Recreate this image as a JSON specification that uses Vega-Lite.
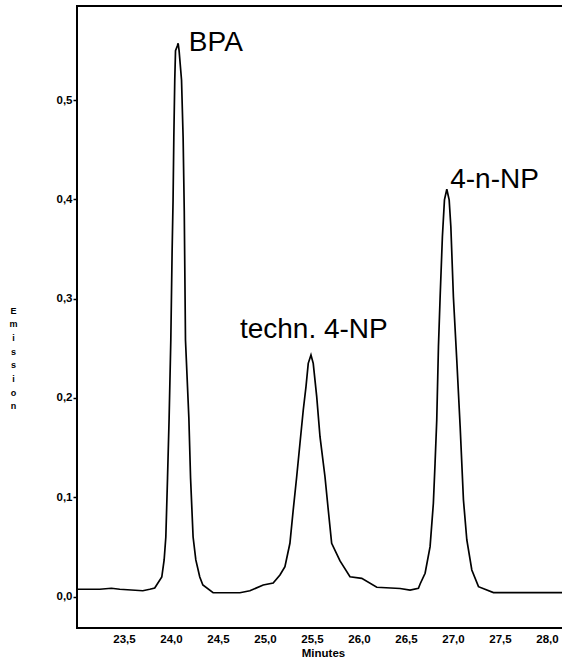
{
  "$schema": "https://vega.github.io/schema/vega-lite/v6.json",
  "autosize": {"type": "none"},
  "padding": {"left": 77, "top": 6, "right": 0, "bottom": 31},
  "width": 486,
  "height": 622,
  "background": "white",
  "config": {
    "view": {"stroke": "black", "strokeWidth": 2},
    "axis": {"grid": false, "domain": false, "labelFont": "Liberation Sans", "labelFontWeight": "bold", "labelFontSize": 11.5, "labelColor": "black", "titleColor": "black", "tickColor": "black"}
  },
  "datasets": {
    "trace": [
      {"t": 23.000, "v": 0.0074}, {"t": 23.242, "v": 0.0074}, {"t": 23.366, "v": 0.0084}, {"t": 23.455, "v": 0.0074},
      {"t": 23.700, "v": 0.0059}, {"t": 23.774, "v": 0.0074}, {"t": 23.827, "v": 0.0087}, {"t": 23.902, "v": 0.0197},
      {"t": 23.927, "v": 0.0369}, {"t": 23.945, "v": 0.0600}, {"t": 23.963, "v": 0.1194}, {"t": 23.980, "v": 0.1799},
      {"t": 23.998, "v": 0.2584}, {"t": 24.012, "v": 0.3490}, {"t": 24.022, "v": 0.3994}, {"t": 24.030, "v": 0.4618},
      {"t": 24.040, "v": 0.5202}, {"t": 24.048, "v": 0.5497}, {"t": 24.067, "v": 0.5545}, {"t": 24.076, "v": 0.5572},
      {"t": 24.086, "v": 0.5497}, {"t": 24.112, "v": 0.5202}, {"t": 24.129, "v": 0.4618}, {"t": 24.141, "v": 0.3883},
      {"t": 24.154, "v": 0.2584}, {"t": 24.190, "v": 0.1799}, {"t": 24.208, "v": 0.1194}, {"t": 24.235, "v": 0.0600},
      {"t": 24.264, "v": 0.0369}, {"t": 24.306, "v": 0.0197}, {"t": 24.339, "v": 0.0117}, {"t": 24.448, "v": 0.0039},
      {"t": 24.733, "v": 0.0039}, {"t": 24.839, "v": 0.0059}, {"t": 24.981, "v": 0.0117}, {"t": 25.087, "v": 0.0137},
      {"t": 25.159, "v": 0.0218}, {"t": 25.212, "v": 0.0301}, {"t": 25.265, "v": 0.0537}, {"t": 25.300, "v": 0.0872},
      {"t": 25.337, "v": 0.1207}, {"t": 25.372, "v": 0.1544}, {"t": 25.407, "v": 0.1879}, {"t": 25.436, "v": 0.2114},
      {"t": 25.460, "v": 0.2349}, {"t": 25.489, "v": 0.2433}, {"t": 25.513, "v": 0.2349}, {"t": 25.550, "v": 0.2013},
      {"t": 25.585, "v": 0.1610}, {"t": 25.638, "v": 0.1207}, {"t": 25.673, "v": 0.0872}, {"t": 25.709, "v": 0.0537},
      {"t": 25.798, "v": 0.0359}, {"t": 25.904, "v": 0.0200}, {"t": 26.029, "v": 0.0184}, {"t": 26.189, "v": 0.0094},
      {"t": 26.437, "v": 0.0082}, {"t": 26.543, "v": 0.0066}, {"t": 26.632, "v": 0.0084}, {"t": 26.650, "v": 0.0127},
      {"t": 26.703, "v": 0.0235}, {"t": 26.756, "v": 0.0503}, {"t": 26.791, "v": 0.0940}, {"t": 26.809, "v": 0.1342},
      {"t": 26.827, "v": 0.1778}, {"t": 26.845, "v": 0.2517}, {"t": 26.863, "v": 0.3020}, {"t": 26.887, "v": 0.3624},
      {"t": 26.909, "v": 0.3995}, {"t": 26.934, "v": 0.4102}, {"t": 26.959, "v": 0.3995}, {"t": 26.977, "v": 0.3725},
      {"t": 27.004, "v": 0.3020}, {"t": 27.040, "v": 0.2383}, {"t": 27.076, "v": 0.1711}, {"t": 27.111, "v": 0.0973},
      {"t": 27.147, "v": 0.0570}, {"t": 27.200, "v": 0.0268}, {"t": 27.271, "v": 0.0100}, {"t": 27.430, "v": 0.0041},
      {"t": 28.170, "v": 0.0041}
    ],
    "labels": [
      {"t": 24.19, "v": 0.549, "label": "BPA"},
      {"t": 24.733, "v": 0.260, "label": "techn. 4-NP"},
      {"t": 26.97, "v": 0.411, "label": "4-n-NP"}
    ]
  },
  "encoding": {
    "x": {
      "field": "t", "type": "quantitative",
      "scale": {"domain": [23.0, 28.17], "nice": false, "zero": false},
      "axis": {
        "values": [23.5, 24.0, 24.5, 25.0, 25.5, 26.0, 26.5, 27.0, 27.5, 28.0],
        "labelExpr": "replace(format(datum.value, '.1f'), '.', ',')",
        "ticks": false, "labelPadding": 5, "labelFlush": false,
        "title": "Minutes", "titleFont": "Liberation Sans", "titleFontWeight": "bold", "titleFontSize": 11.5, "titleColor": "black",
        "titleBaseline": "top", "titleY": 19, "titleX": 246, "titleAnchor": null
      }
    },
    "y": {
      "field": "v", "type": "quantitative",
      "scale": {"domain": [-0.0316, 0.5947], "nice": false, "zero": false},
      "axis": {
        "values": [0, 0.1, 0.2, 0.3, 0.4, 0.5],
        "labelExpr": "replace(format(datum.value, '.1f'), '.', ',')",
        "ticks": true, "tickSize": 4, "tickWidth": 1.5, "labelPadding": 1,
        "title": ["E", "m", "i", "s", "s", "i", "o", "n"],
        "titleAngle": 0, "titleFont": "Liberation Sans", "titleFontWeight": "bold", "titleFontSize": 9, "titleColor": "black",
        "titleLineHeight": 13.7, "titleAlign": "center", "titleBaseline": "middle",
        "titleX": -64, "titleY": 304
      }
    }
  },
  "layer": [
    {
      "data": {"name": "trace"},
      "mark": {"type": "line", "color": "black", "strokeWidth": 1.7, "clip": true}
    },
    {
      "data": {"name": "labels"},
      "mark": {"type": "text", "align": "left", "baseline": "alphabetic", "font": "Liberation Sans", "fontSize": 28, "color": "black"},
      "encoding": {"text": {"field": "label"}}
    }
  ]
}
